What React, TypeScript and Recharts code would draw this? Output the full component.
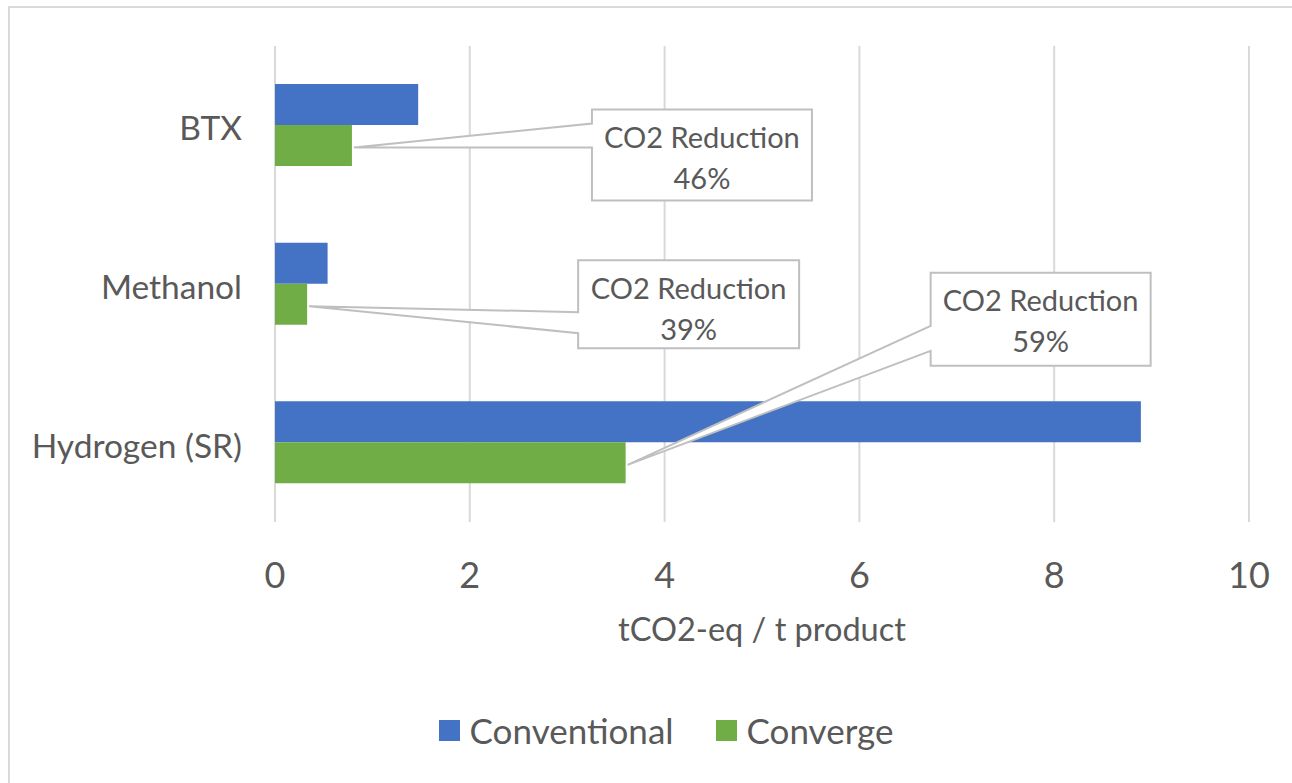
import { BarChart, Bar, XAxis, YAxis, CartesianGrid, Legend, LabelList } from 'recharts'

const products = ['BTX', 'Methanol', 'Hydrogen (SR)']
const conventional = [1.47, 0.54, 8.89]
const converge = [0.79, 0.33, 3.6]
const reductions = ['46%', '39%', '59%']
const xTicks = [0, 2, 4, 6, 8, 10]

const data = products.map((name, i) => ({
  name,
  conventional: conventional[i],
  converge: converge[i],
  reduction: reductions[i],
}))

const FONT = 'Lato, "Open Sans", sans-serif'
const TEXT = '#595959'
const GRID = '#d9d9d9'
const BLUE = '#4472c4'
const GREEN = '#70ad47'

// callout boxes, placed relative to the end of each green bar
const callouts = [
  { left: 240, top: -36, w: 220, h: 91, j1: -22, j2: 2 },
  { left: 271, top: -44, w: 221, h: 88, j1: 8, j2: 29 },
  { left: 305, top: -190, w: 220, h: 93, j1: -137, j2: -112 },
]

function Callout(props: any) {
  const { x, y, width, height, index, value } = props
  const c = callouts[index]
  if (!c) return null
  const ex = Number(x) + Number(width)
  const cy = Number(y) + Number(height) / 2
  const tx = ex + 2
  const ty = cy + 2
  const bx = ex + c.left
  const by = cy + c.top
  const d = `M${bx},${by} H${bx + c.w} V${by + c.h} H${bx} V${cy + c.j2} L${tx},${ty} L${bx},${cy + c.j1} Z`
  return (
    <g>
      <path d={d} fill="#fff" stroke="#bfbfbf" strokeWidth={2} strokeLinejoin="miter" />
      <text x={bx + c.w / 2} y={by + 27} textAnchor="middle" dominantBaseline="central"
        fill={TEXT} fontSize={29} fontFamily={FONT}>CO2 Reduction</text>
      <text x={bx + c.w / 2} y={by + 68} textAnchor="middle" dominantBaseline="central"
        fill={TEXT} fontSize={29} fontFamily={FONT}>{value}</text>
    </g>
  )
}

function LegendContent() {
  const items = [
    { label: 'Conventional', color: BLUE },
    { label: 'Converge', color: GREEN },
  ]
  return (
    <div style={{ display: 'flex', justifyContent: 'center', alignItems: 'center', gap: 42, paddingLeft: 73 }}>
      {items.map((it) => (
        <div key={it.label} style={{ display: 'flex', alignItems: 'center', gap: 10 }}>
          <span style={{ width: 21, height: 21, background: it.color, display: 'inline-block' }} />
          <span style={{ fontFamily: FONT, fontSize: 35, color: TEXT, lineHeight: '42px' }}>{it.label}</span>
        </div>
      ))}
    </div>
  )
}

export default function App() {
  return (
    <div style={{ position: 'absolute', left: 0, top: 0, width: 1292, height: 783, overflow: 'hidden', background: '#fff' }}>
      <div style={{ position: 'absolute', left: 8, top: 6, width: 1320, height: 820, border: `2px solid ${GRID}` }} />
      <div style={{ position: 'absolute', left: 0, top: 0 }}>
        <BarChart
          width={1292}
          height={783}
          data={data}
          layout="vertical"
          margin={{ top: 46, right: 43, left: 10, bottom: 32 }}
          barGap={0}
        >
          <CartesianGrid horizontal={false} stroke={GRID} strokeWidth={2} />
          <XAxis
            type="number"
            domain={[0, 10]}
            ticks={xTicks}
            axisLine={false}
            tickLine={false}
            tickSize={0}
            tickMargin={40}
            height={187}
            tick={{ fill: TEXT, fontSize: 36, fontFamily: FONT }}
            label={{ value: 'tCO2-eq / t product', position: 'insideTop', offset: 96, fill: TEXT, fontSize: 32.5, fontFamily: FONT }}
          />
          <YAxis
            type="category"
            dataKey="name"
            width={265}
            axisLine={false}
            tickLine={false}
            tickSize={0}
            tickMargin={33}
            tick={{ fill: TEXT, fontSize: 33.5, fontFamily: FONT, dy: 3 }}
          />
          <Legend verticalAlign="bottom" height={42} content={<LegendContent />} />
          <Bar dataKey="conventional" name="Conventional" fill={BLUE} barSize={41} isAnimationActive={false} />
          <Bar dataKey="converge" name="Converge" fill={GREEN} barSize={41} isAnimationActive={false}>
            <LabelList dataKey="reduction" content={<Callout />} />
          </Bar>
        </BarChart>
      </div>
    </div>
  )
}
